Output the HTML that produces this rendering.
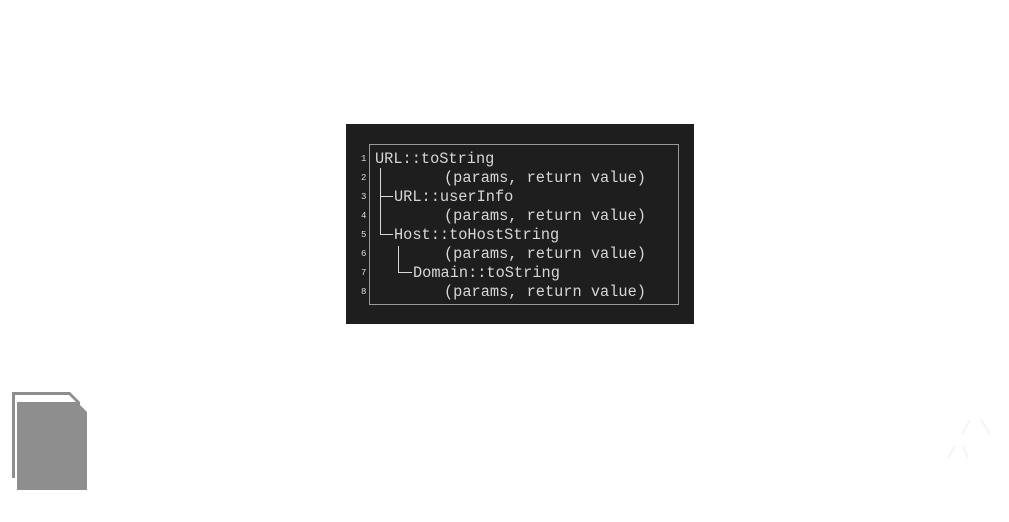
<!DOCTYPE html>
<html><head><style>
html,body{margin:0;padding:0;background:#fff;width:1009px;height:522px;overflow:hidden;position:relative}
.box{position:absolute;left:346px;top:124px;width:348px;height:200px;background:#1e1e1e}
.inner{position:absolute;left:369px;top:144px;width:310px;height:161px;border:1px solid #9a9a9a;box-sizing:border-box}
.t{position:absolute;font-family:"Liberation Mono",monospace;font-size:15.3px;color:#d6d6d6;white-space:pre;line-height:19px}
.n{position:absolute;font-family:"Liberation Mono",monospace;font-size:9px;color:#ddd;left:361px}
.l{position:absolute;background:#d8d8d8}
</style></head><body>
<div class="box"></div>
<div class="inner"></div>
<div class="n" style="top:154px">1</div>
<div class="n" style="top:173px">2</div>
<div class="n" style="top:192px">3</div>
<div class="n" style="top:211px">4</div>
<div class="n" style="top:230px">5</div>
<div class="n" style="top:249px">6</div>
<div class="n" style="top:268px">7</div>
<div class="n" style="top:287px">8</div>
<div class="t" style="left:375px;top:150px">URL::toString</div>
<div class="t" style="left:444px;top:169px">(params, return value)</div>
<div class="t" style="left:394px;top:188px">URL::userInfo</div>
<div class="t" style="left:444px;top:207px">(params, return value)</div>
<div class="t" style="left:394px;top:226px">Host::toHostString</div>
<div class="t" style="left:444px;top:245px">(params, return value)</div>
<div class="t" style="left:413px;top:264px">Domain::toString</div>
<div class="t" style="left:444px;top:283px">(params, return value)</div>
<div class="l" style="left:380px;top:168px;width:1px;height:67px"></div>
<div class="l" style="left:380px;top:196px;width:13px;height:1px"></div>
<div class="l" style="left:380px;top:234px;width:13px;height:1px"></div>
<div class="l" style="left:398px;top:246px;width:1px;height:27px"></div>
<div class="l" style="left:398px;top:272px;width:14px;height:1px"></div>
<svg style="position:absolute;left:0;top:0" width="1009" height="522">
<polygon points="12,392 70,392 80,402 80,478 12,478" fill="#8e8e8e"/>
<polygon points="15,395 69,395 79,405 79,482 15,482" fill="#fff"/>
<polygon points="17,402 77,402 87,412 87,490 17,490" fill="#8e8e8e"/>
<g stroke="#f4f4f4" stroke-width="2" fill="none">
<path d="M962,434 L970,420 M981,420 L990,434"/>
<path d="M948,458 L955,446 M963,446 L968,458"/>
</g>
</svg>
</body></html>
